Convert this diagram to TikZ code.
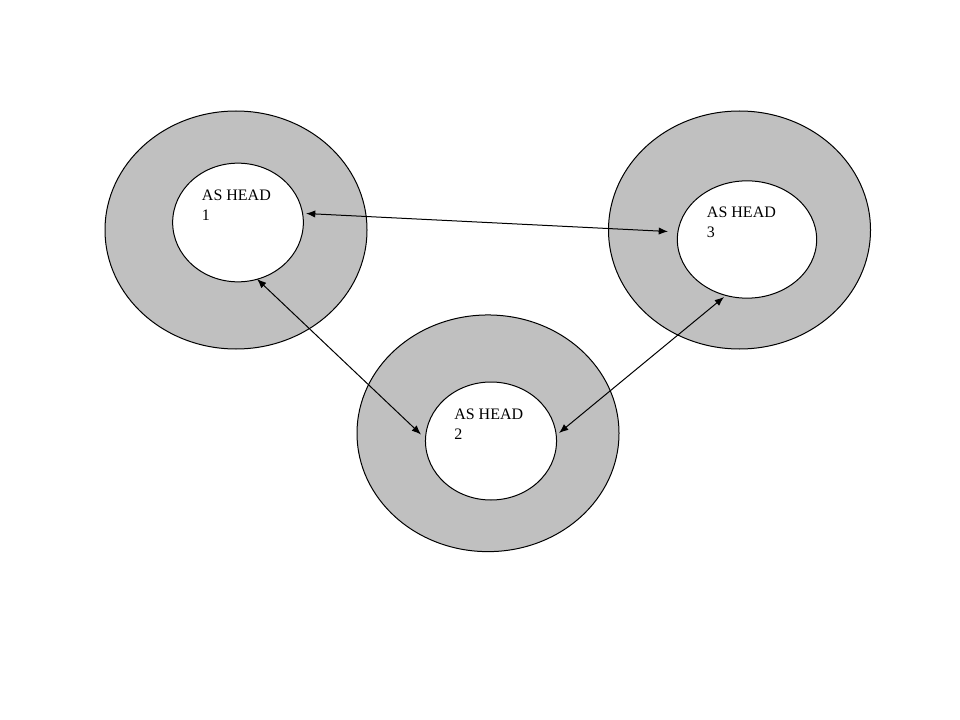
\documentclass[tikz,border=0pt]{standalone}
\usepackage{fontspec}
\setmainfont{Liberation Serif}
\usetikzlibrary{shapes.geometric,arrows.meta}
\definecolor{ringgray}{RGB}{192,192,192}
\begin{document}
\begin{tikzpicture}[x=0.75pt,y=-0.75pt,
  outerring/.style={ellipse,draw=black,line width=0.75pt,fill=ringgray,inner sep=0pt,minimum width=196.5pt,minimum height=178.5pt},
  innerhole/.style={ellipse,draw=black,line width=0.75pt,fill=white,inner sep=0pt},
  headlabel/.style={anchor=north west,inner sep=0pt,align=left,font=\fontsize{12}{15}\selectfont},
  link/.style={line width=0.75pt,{Latex[length=7pt,width=5.5pt]}-{Latex[length=7pt,width=5.5pt]}}]
\useasboundingbox (0,0) rectangle (960,720);
\fill[white] (0,0) rectangle (960,720);
% outer rings
\node[outerring] (o1) at (236,230) {};
\node[outerring] (o3) at (739.5,230) {};
\node[outerring,minimum height=177.5pt] (o2) at (488,433.3) {};
% inner holes
\node[innerhole,minimum width=98pt,minimum height=89pt] (i1) at (238,222.5) {};
\node[innerhole,minimum width=104.5pt,minimum height=88pt] (i3) at (747,239.5) {};
\node[innerhole,minimum width=98.3pt,minimum height=88.5pt] (i2) at (491,441) {};
% labels
\node[headlabel] (t1) at (201.7,189.3) {AS HEAD\\1};
\node[headlabel] (t3) at (706.7,206.7) {AS HEAD\\3};
\node[headlabel] (t2) at (454,408.3) {AS HEAD\\2};
% connector ends
\coordinate (a1) at (306,213.5);
\coordinate (a3) at (668,231.5);
\coordinate (b1) at (257,279);
\coordinate (b2) at (421,434.5);
\coordinate (c2) at (559,433);
\coordinate (c3) at (724,297);
\draw[link] (a1) -- (a3);
\draw[link] (b1) -- (b2);
\draw[link] (c2) -- (c3);
\end{tikzpicture}
\end{document}
